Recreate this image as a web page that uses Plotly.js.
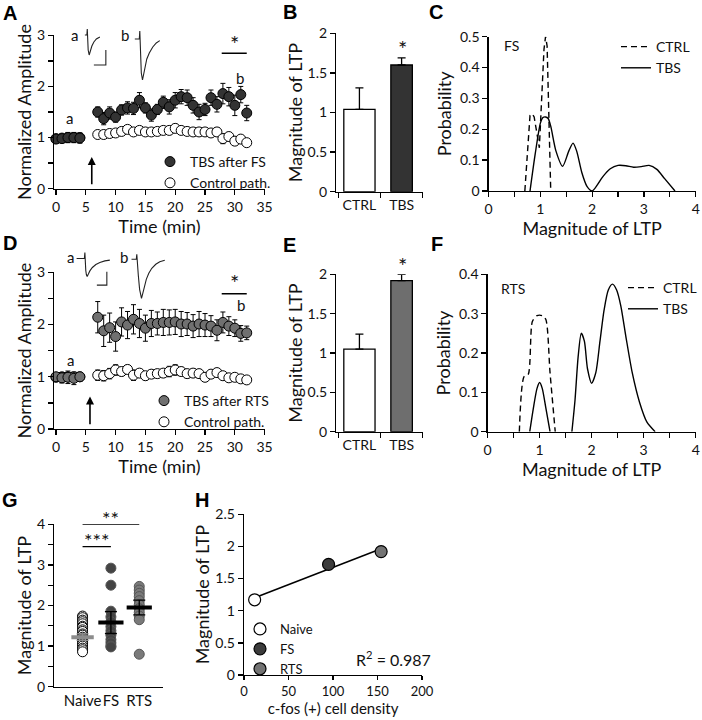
<!DOCTYPE html>
<html>
<head>
<meta charset="utf-8">
<script src="https://cdn.plot.ly/plotly-3.0.1.min.js"></script>
<style>
  body { margin: 0; background: #fff; }
  #fig { width: 702px; height: 720px; }
</style>
</head>
<body>
<div id="fig"></div>
<script>
// ---- data: A / D time courses (minutes, normalized amplitude) ----
const timeMin = [0, 1, 2, 3, 4, 7, 8, 9, 10, 11, 12, 13, 14, 15, 16, 17, 18, 19, 20, 21, 22, 23, 24, 25, 26, 27, 28, 29, 30, 31, 32];

const fsTbs = [0.97, 0.98, 1.00, 1.00, 0.99, 1.50, 1.37, 1.48, 1.40, 1.54, 1.58, 1.57, 1.73, 1.58, 1.44, 1.55, 1.69, 1.60, 1.73, 1.80, 1.78, 1.63, 1.50, 1.55, 1.78, 1.65, 1.86, 1.80, 1.63, 1.84, 1.48];
const fsTbsErr = [0.07, 0.08, 0.10, 0.10, 0.10, 0.10, 0.12, 0.12, 0.10, 0.10, 0.12, 0.12, 0.15, 0.10, 0.12, 0.10, 0.12, 0.14, 0.15, 0.14, 0.15, 0.15, 0.15, 0.12, 0.15, 0.15, 0.20, 0.18, 0.20, 0.16, 0.15];
const fsCtrl = [0.98, 0.99, 1.00, 1.00, 1.00, 1.06, 1.06, 1.08, 1.09, 1.12, 1.16, 1.11, 1.14, 1.11, 1.11, 1.12, 1.14, 1.14, 1.18, 1.14, 1.12, 1.11, 1.11, 1.11, 1.09, 1.11, 0.98, 1.02, 0.93, 0.97, 0.90];
const fsCtrlErr = [0.05, 0.05, 0.05, 0.05, 0.05, 0.06, 0.05, 0.06, 0.06, 0.06, 0.07, 0.06, 0.07, 0.06, 0.06, 0.07, 0.07, 0.08, 0.08, 0.07, 0.07, 0.06, 0.07, 0.07, 0.06, 0.08, 0.10, 0.08, 0.08, 0.06, 0.06];

const rtsTbs = [1.00, 0.98, 0.99, 0.97, 1.00, 2.14, 1.88, 1.94, 1.77, 2.05, 1.99, 2.10, 2.02, 1.93, 2.02, 2.02, 2.04, 2.04, 2.05, 2.01, 2.01, 1.97, 2.01, 1.99, 1.97, 1.89, 2.04, 1.97, 1.93, 1.83, 1.84];
const rtsTbsErr = [0.08, 0.10, 0.12, 0.12, 0.08, 0.30, 0.30, 0.28, 0.28, 0.27, 0.26, 0.28, 0.27, 0.25, 0.25, 0.22, 0.25, 0.24, 0.24, 0.24, 0.22, 0.22, 0.24, 0.22, 0.20, 0.20, 0.20, 0.18, 0.16, 0.15, 0.13];
const rtsCtrl = [0.99, 1.00, 1.00, 1.00, 1.00, 1.03, 1.02, 1.06, 1.13, 1.10, 1.14, 1.03, 1.07, 1.02, 1.05, 1.06, 1.07, 1.10, 1.13, 1.10, 1.06, 1.07, 1.06, 0.99, 1.05, 1.08, 1.02, 0.98, 0.99, 0.96, 0.94];
const rtsCtrlErr = [0.05, 0.05, 0.05, 0.05, 0.05, 0.10, 0.10, 0.10, 0.10, 0.08, 0.08, 0.10, 0.08, 0.08, 0.08, 0.08, 0.08, 0.10, 0.10, 0.08, 0.08, 0.08, 0.08, 0.07, 0.07, 0.07, 0.06, 0.06, 0.05, 0.05, 0.05];

// example EPSC traces (ms, arbitrary amplitude)
const fsTraceAt = [1, 3, 3.4, 3.8, 4.3, 5.3, 6.5, 8, 10, 12.5, 16];
const fsTraceA = [0, 0, 0.3, -0.35, -0.75, -1.0, -0.8, -0.55, -0.35, -0.2, -0.1];
const fsTraceBt = [2, 6.5, 7, 7.3, 7.7, 8.5, 9.7, 10.8, 12, 14, 16.5, 20, 23.5, 27];
const fsTraceB = [0, 0, 0.4, -0.4, -1.0, -1.7, -2.05, -1.75, -1.4, -1.0, -0.7, -0.4, -0.2, -0.08];
const rtsTraceAt = [1.7, 9.5, 10, 10.4, 10.9, 11.5, 12.3, 13.5, 15, 17.5, 21, 25, 30, 35];
const rtsTraceA = [0, 0, 0.3, -0.3, -0.6, -0.8, -0.9, -0.78, -0.62, -0.45, -0.3, -0.2, -0.12, -0.08];
const rtsTraceBt = [1.7, 6.5, 7, 7.5, 8.5, 9.8, 11.7, 13, 14.5, 16.5, 19, 22, 26, 30, 35];
const rtsTraceB = [0, 0, 0.25, -0.2, -0.8, -1.5, -1.95, -1.7, -1.35, -1.0, -0.7, -0.45, -0.25, -0.12, -0.05];
const fsScaleT = [10, 22, 22], fsScaleAmp = [-1.5, -1.5, -0.75];
const rtsScaleT = [22, 32, 32], rtsScaleAmp = [-1.33, -1.33, -0.66];

// ---- B / E bars ----
const ltpGroups = ['CTRL', 'TBS'];
const fsLtp = [1.04, 1.60], fsLtpErr = [0.27, 0.09];
const rtsLtp = [1.05, 1.92], rtsLtpErr = [0.19, 0.08];
const barWidths = [0.74, 0.51];

// ---- C / F probability curves ----
const fsCtrlDistX = [0.70, 0.80, 0.84, 0.88, 0.98, 1.07, 1.10, 1.13, 1.20];
const fsCtrlDistY = [0, 0.245, 0.25, 0.24, 0.14, 0.46, 0.50, 0.47, 0];
const fsTbsDistX = [0.80, 0.90, 1.00, 1.05, 1.10, 1.15, 1.20, 1.30, 1.43, 1.55, 1.63, 1.70, 1.80, 1.90, 2.00, 2.10, 2.20, 2.35, 2.50, 2.65, 2.80, 2.95, 3.10, 3.25, 3.40, 3.60];
const fsTbsDistY = [0, 0.12, 0.22, 0.238, 0.24, 0.235, 0.21, 0.13, 0.08, 0.13, 0.155, 0.13, 0.06, 0.015, 0, 0.02, 0.045, 0.072, 0.083, 0.082, 0.077, 0.079, 0.083, 0.07, 0.04, 0];
const rtsCtrlDistX = [0.61, 0.70, 0.78, 0.86, 0.95, 1.05, 1.12, 1.20, 1.30];
const rtsCtrlDistY = [0, 0.14, 0.145, 0.28, 0.295, 0.295, 0.285, 0.15, 0];
const rtsTbsDistX = [0.81, 0.88, 0.95, 1.00, 1.05, 1.12, 1.20, null, 1.62, 1.68, 1.74, 1.80, 1.86, 1.92, 2.00, 2.08, 2.16, 2.24, 2.32, 2.40, 2.48, 2.56, 2.66, 2.78, 2.92, 3.06, 3.22];
const rtsTbsDistY = [0, 0.06, 0.11, 0.125, 0.11, 0.06, 0, null, 0, 0.08, 0.19, 0.25, 0.23, 0.16, 0.123, 0.15, 0.23, 0.31, 0.36, 0.375, 0.36, 0.32, 0.24, 0.15, 0.075, 0.025, 0];

// ---- G scatter ----
const gGroups = ['Naive', 'FS', 'RTS'];
const naiveLtp = [1.74, 1.70, 1.64, 1.60, 1.55, 1.49, 1.46, 1.40, 1.36, 1.30, 1.27, 1.22, 1.18, 1.15, 1.09, 1.05, 1.00, 0.95, 0.91, 0.86];
const fsLtpCells = [2.92, 2.50, 1.86, 1.72, 1.60, 1.48, 1.38, 1.27, 1.16, 1.08, 1.00, 0.98];
const rtsLtpCells = [2.47, 2.38, 2.30, 2.22, 2.12, 2.02, 1.92, 1.83, 1.74, 1.65, 0.80];
const gMean = [1.22, 1.58, 1.95];
const gSem = [0.08, 0.27, 0.18];

// ---- H correlation ----
const cfosDensity = [12, 95, 154];
const hLtp = [1.17, 1.72, 1.92];
const hColors = ['#ffffff', '#3c3c3c', '#737373'];

// ---- helpers ----
const W = 702, H = 720;
const FONT = 'Lato, "Open Sans", sans-serif';
const INK = '#111';
const domX = (a, b) => [a / W, b / W];
const domY = (top, bottom) => [1 - bottom / H, 1 - top / H];
const pX = x => x / W;
const pY = y => 1 - y / H;

function ttl(text, standoff, size) {
  return { text: text, standoff: standoff, font: { family: FONT, size: size || 18, color: INK } };
}
function axis(extra) {
  return Object.assign({
    showline: true, linecolor: '#000', linewidth: 1.3,
    ticks: 'outside', ticklen: 5, tickwidth: 1.3, tickcolor: '#000',
    showgrid: false, zeroline: false, fixedrange: true,
    tickfont: { family: FONT, size: 14, color: INK }
  }, extra);
}
function minor(dtick) {
  return { ticks: 'outside', dtick: dtick, ticklen: 5, tickwidth: 1.3, tickcolor: '#000', showgrid: false };
}
const hidden = { visible: false, fixedrange: true };

// ---- traces ----
const data = [];
function timeCourse(xa, ya, tbs, tbsErr, ctrl, ctrlErr, tbsColor, tbsName, leg) {
  data.push({
    type: 'scatter', mode: 'markers', x: timeMin, y: ctrl, xaxis: xa, yaxis: ya, cliponaxis: false,
    error_y: { type: 'data', array: ctrlErr, color: '#000', thickness: 1, width: 2.5 },
    marker: { size: 10, color: '#fff', line: { color: '#000', width: 1 } },
    name: 'Control path.', legend: leg, legendrank: 2
  });
  data.push({
    type: 'scatter', mode: 'markers', x: timeMin, y: tbs, xaxis: xa, yaxis: ya, cliponaxis: false,
    error_y: { type: 'data', array: tbsErr, color: '#000', thickness: 1, width: 2.5 },
    marker: { size: 10, color: tbsColor, line: { color: '#000', width: 1 } },
    name: tbsName, legend: leg, legendrank: 1
  });
}
timeCourse('x', 'y', fsTbs, fsTbsErr, fsCtrl, fsCtrlErr, '#333333', 'TBS after FS', 'legend');
timeCourse('x4', 'y4', rtsTbs, rtsTbsErr, rtsCtrl, rtsCtrlErr, '#707070', 'TBS after RTS', 'legend3');

function insetLine(xa, ya, t, amp) {
  data.push({ type: 'scatter', mode: 'lines', x: t, y: amp, xaxis: xa, yaxis: ya, showlegend: false,
    cliponaxis: false, line: { color: '#222', width: 1.1 }, hoverinfo: 'skip' });
}
insetLine('x9', 'y9', fsTraceAt, fsTraceA);
insetLine('x9', 'y9', fsScaleT, fsScaleAmp);
insetLine('x10', 'y10', fsTraceBt, fsTraceB);
insetLine('x11', 'y11', rtsTraceAt, rtsTraceA);
insetLine('x11', 'y11', rtsScaleT, rtsScaleAmp);
insetLine('x12', 'y12', rtsTraceBt, rtsTraceB);

function bars(xa, ya, vals, errs, tbsColor) {
  data.push({
    type: 'bar', x: [0, 1], y: vals, width: barWidths, xaxis: xa, yaxis: ya, showlegend: false,
    marker: { color: ['#ffffff', tbsColor], line: { color: '#000', width: 1.3 } },
    error_y: { type: 'data', array: errs, arrayminus: [0, 0], symmetric: false, color: '#000', thickness: 1.3, width: 4 }
  });
}
bars('x2', 'y2', fsLtp, fsLtpErr, '#333333');
bars('x5', 'y5', rtsLtp, rtsLtpErr, '#6e6e6e');

function dist(xa, ya, x, y, dashed, smooth, name, leg) {
  data.push({
    type: 'scatter', mode: 'lines', x: x, y: y, xaxis: xa, yaxis: ya, cliponaxis: false, connectgaps: false,
    line: { color: '#000', width: 1.4, dash: dashed ? '6px,4px' : 'solid', shape: smooth ? 'spline' : 'linear', smoothing: 0.7 },
    name: name, legend: leg
  });
}
dist('x3', 'y3', fsCtrlDistX, fsCtrlDistY, true, false, 'CTRL', 'legend2');
dist('x3', 'y3', fsTbsDistX, fsTbsDistY, false, true, 'TBS', 'legend2');
dist('x6', 'y6', rtsCtrlDistX, rtsCtrlDistY, true, true, 'CTRL', 'legend4');
dist('x6', 'y6', rtsTbsDistX, rtsTbsDistY, false, true, 'TBS', 'legend4');

// G
[[naiveLtp, 'Naive', '#ffffff'], [fsLtpCells, 'FS', '#444444'], [rtsLtpCells, 'RTS', '#7a7a7a']].forEach(([vals, g, c]) => {
  data.push({
    type: 'scatter', mode: 'markers', x: vals.map(() => g), y: vals, xaxis: 'x7', yaxis: 'y7',
    showlegend: false, cliponaxis: false,
    marker: { size: 10, color: c, line: { color: c === '#ffffff' ? '#000' : '#555', width: 1 } }
  });
});
data.push({
  type: 'scatter', mode: 'markers', x: gGroups.slice(0, 1), y: gMean.slice(0, 1), xaxis: 'x7', yaxis: 'y7', showlegend: false,
  marker: { symbol: 'line-ew', size: 16, line: { color: '#8c8c8c', width: 4 } },
  error_y: { type: 'data', array: gSem.slice(0, 1), color: '#8c8c8c', thickness: 1.3, width: 6 }
});
data.push({
  type: 'scatter', mode: 'markers', x: gGroups.slice(1), y: gMean.slice(1), xaxis: 'x7', yaxis: 'y7', showlegend: false,
  marker: { symbol: 'line-ew', size: 18, line: { color: '#000', width: 4 } },
  error_y: { type: 'data', array: gSem.slice(1), color: '#000', thickness: 1.3, width: 6 }
});

// H: least-squares fit through the three group means
const n = cfosDensity.length;
const mx = cfosDensity.reduce((a, b) => a + b, 0) / n;
const my = hLtp.reduce((a, b) => a + b, 0) / n;
let sxy = 0, sxx = 0;
cfosDensity.forEach((x, i) => { sxy += (x - mx) * (hLtp[i] - my); sxx += (x - mx) * (x - mx); });
const slope = sxy / sxx, icpt = my - slope * mx;
const fitX = [Math.min(...cfosDensity), Math.max(...cfosDensity)];
data.push({
  type: 'scatter', mode: 'lines', x: fitX, y: fitX.map(x => icpt + slope * x), xaxis: 'x8', yaxis: 'y8',
  showlegend: false, line: { color: '#000', width: 1.5 }
});
gGroups.forEach((g, i) => {
  data.push({
    type: 'scatter', mode: 'markers', x: [cfosDensity[i]], y: [hLtp[i]], xaxis: 'x8', yaxis: 'y8', cliponaxis: false,
    name: g, legend: 'legend5',
    marker: { size: 12, color: hColors[i], line: { color: '#000', width: 1.2 } }
  });
});

// ---- layout ----
const txt = (size, extra) => Object.assign({ font: { family: FONT, size: size, color: INK }, showarrow: false,
  xanchor: 'center', yanchor: 'middle' }, extra);
const paperTxt = (size, text, x, y) => txt(size, { text: text, x: pX(x), y: pY(y), xref: 'paper', yref: 'paper' });
const letter = (t, x, y) => ({ text: '<b>' + t + '</b>', x: pX(x), y: pY(y), xref: 'paper', yref: 'paper', showarrow: false,
  xanchor: 'center', yanchor: 'middle', font: { family: '"Liberation Sans", Arial, sans-serif', size: 20, color: '#000' } });

const annotations = [
  letter('A', 10, 13), letter('B', 290, 12), letter('C', 437, 12),
  letter('D', 10, 243), letter('E', 290, 245), letter('F', 438, 244),
  letter('G', 10, 500), letter('H', 202, 500),
  // A
  paperTxt(15, 'a', 75, 35),
  paperTxt(15, 'b', 125, 35),
  txt(15, { text: 'a', x: 2.3, y: 1.38, xref: 'x', yref: 'y' }),
  txt(22, { text: '*', x: 30, y: 2.84, xref: 'x', yref: 'y' }),
  txt(15, { text: 'b', x: 30.8, y: 2.17, xref: 'x', yref: 'y' }),
  { x: 6, y: 0.62, ax: 6, ay: 0.06, xref: 'x', yref: 'y', axref: 'x', ayref: 'y', text: '', showarrow: true,
    arrowhead: 2, arrowsize: 1, arrowwidth: 1.6, arrowcolor: '#000' },
  // B
  paperTxt(22, '*', 403, 49),
  // C
  txt(14, { text: 'FS', x: 0.44, y: 0.47, xref: 'x3', yref: 'y3' }),
  // D
  paperTxt(15, 'a', 71, 257),
  paperTxt(15, 'b', 124, 257),
  txt(15, { text: 'a', x: 2.4, y: 1.32, xref: 'x4', yref: 'y4' }),
  txt(22, { text: '*', x: 30, y: 2.8, xref: 'x4', yref: 'y4' }),
  txt(15, { text: 'b', x: 31, y: 2.37, xref: 'x4', yref: 'y4' }),
  { x: 5.7, y: 0.62, ax: 5.7, ay: 0.06, xref: 'x4', yref: 'y4', axref: 'x4', ayref: 'y4', text: '', showarrow: true,
    arrowhead: 2, arrowsize: 1, arrowwidth: 1.6, arrowcolor: '#000' },
  // E
  paperTxt(22, '*', 403, 265),
  // F
  txt(14, { text: 'RTS', x: 0.48, y: 0.365, xref: 'x6', yref: 'y6' }),
  // G
  paperTxt(20, '***', 97, 540),
  paperTxt(20, '**', 111, 518),
  // H
  paperTxt(16, 'R<sup>2</sup> = 0.987', 394, 658)
];

const sigLine = (xref, yref, x0, x1, y) => ({ type: 'line', xref: xref, yref: yref, x0: x0, x1: x1, y0: y, y1: y,
  line: { color: '#000', width: 1.4 } });
const shapes = [
  sigLine('x', 'y', 27.8, 32, 2.65),
  sigLine('x4', 'y4', 27.8, 32, 2.59),
  sigLine('x7', 'y7', 0, 1, 3.45),
  sigLine('x7', 'y7', 0, 2, 4.0)
];

const legendBase = (x, y, size) => ({
  x: pX(x), y: pY(y), xanchor: 'left', yanchor: 'top', bgcolor: 'rgba(0,0,0,0)',
  font: { family: FONT, size: size || 14, color: INK }, tracegroupgap: 0, itemclick: false, itemdoubleclick: false
});

const layout = {
  width: W, height: H, margin: { l: 0, r: 0, t: 0, b: 0 },
  paper_bgcolor: '#fff', plot_bgcolor: 'rgba(0,0,0,0)',
  font: { family: FONT, color: INK },
  showlegend: true,
  legend: legendBase(150, 146),
  legend2: legendBase(616, 31),
  legend3: legendBase(144, 385),
  legend4: legendBase(624, 272),
  legend5: legendBase(240, 614, 13),
  annotations: annotations,
  shapes: shapes,

  // A
  xaxis: axis({ domain: domX(54.3, 265), range: [-0.3, 35], anchor: 'y', dtick: 5, tick0: 0, title: ttl('Time (min)', 4) }),
  yaxis: axis({ domain: domY(35.3, 188.7), range: [0, 3], anchor: 'x', dtick: 1, minor: minor(0.5), title: ttl('Normalized Amplitude', 0) }),
  // B
  xaxis2: axis({ domain: domX(336.7, 423.3), range: [-0.55, 1.5], anchor: 'y2', tickmode: 'array', tickvals: [0, 1], ticktext: ltpGroups,
    ticks: '', minor: { ticks: 'outside', tickmode: 'linear', tick0: -0.5, dtick: 1, ticklen: 5, tickwidth: 1.3, tickcolor: '#000' } }),
  yaxis2: axis({ domain: domY(33.3, 191.7), range: [0, 2], anchor: 'x2', dtick: 0.5, title: ttl('Magnitude of LTP', 0) }),
  // C
  xaxis3: axis({ domain: domX(489.3, 696.7), range: [0, 4], anchor: 'y3', dtick: 1, minor: minor(0.5), title: ttl('Magnitude of LTP', 4) }),
  yaxis3: axis({ domain: domY(36.7, 191), range: [0, 0.5], anchor: 'x3', dtick: 0.1, title: ttl('Probability', 3) }),
  // D
  xaxis4: axis({ domain: domX(54.3, 265), range: [-0.3, 35], anchor: 'y4', dtick: 5, tick0: 0, title: ttl('Time (min)', 4) }),
  yaxis4: axis({ domain: domY(272.3, 429), range: [0, 3], anchor: 'x4', dtick: 1, minor: minor(0.5), title: ttl('Normalized Amplitude', 0) }),
  // E
  xaxis5: axis({ domain: domX(336.7, 423.3), range: [-0.55, 1.5], anchor: 'y5', tickmode: 'array', tickvals: [0, 1], ticktext: ltpGroups,
    ticks: '', minor: { ticks: 'outside', tickmode: 'linear', tick0: -0.5, dtick: 1, ticklen: 5, tickwidth: 1.3, tickcolor: '#000' } }),
  yaxis5: axis({ domain: domY(274.3, 431.7), range: [0, 2], anchor: 'x5', dtick: 0.5, title: ttl('Magnitude of LTP', 0) }),
  // F
  xaxis6: axis({ domain: domX(488.3, 696.7), range: [0, 4], anchor: 'y6', dtick: 1, minor: minor(0.5), title: ttl('Magnitude of LTP', 4) }),
  yaxis6: axis({ domain: domY(274.3, 431.7), range: [0, 0.4], anchor: 'x6', dtick: 0.1, title: ttl('Probability', 3) }),
  // G
  xaxis7: axis({ domain: domX(54.3, 163.3), type: 'category', categoryarray: gGroups, categoryorder: 'array', range: [-1, 2.84], anchor: 'y7', ticks: '',
    tickangle: 0, tickfont: { family: FONT, size: 15, color: INK } }),
  yaxis7: axis({ domain: domY(524.3, 686.7), range: [0, 4], anchor: 'x7', dtick: 1, minor: minor(0.5), title: ttl('Magnitude of LTP', 0) }),
  // H
  xaxis8: axis({ domain: domX(244.3, 422.7), range: [0, 200], anchor: 'y8', dtick: 50, ticklen: 4,
    tickfont: { family: FONT, size: 13, color: INK }, title: ttl('c-fos (+) cell density', 5, 15) }),
  yaxis8: axis({ domain: domY(514.3, 675), range: [0, 2.5], anchor: 'x8', dtick: 0.5, title: ttl('Magnitude of LTP', 1) }),
  // example traces
  xaxis9: Object.assign({ domain: domX(84, 108), range: [0, 24], anchor: 'y9' }, hidden),
  yaxis9: Object.assign({ domain: domY(28, 68), range: [-1.65, 0.35], anchor: 'x9' }, hidden),
  xaxis10: Object.assign({ domain: domX(133, 163), range: [0, 30], anchor: 'y10' }, hidden),
  yaxis10: Object.assign({ domain: domY(30, 84), range: [-2.25, 0.45], anchor: 'x10' }, hidden),
  xaxis11: Object.assign({ domain: domX(75, 111), range: [0, 36], anchor: 'y11' }, hidden),
  yaxis11: Object.assign({ domain: domY(250, 290), range: [-1.575, 0.425], anchor: 'x11' }, hidden),
  xaxis12: Object.assign({ domain: domX(130, 167), range: [0, 37], anchor: 'y12' }, hidden),
  yaxis12: Object.assign({ domain: domY(250, 302), range: [-2.135, 0.465], anchor: 'x12' }, hidden)
};

Plotly.newPlot('fig', data, layout, { staticPlot: true, displayModeBar: false });
</script>
</body>
</html>
